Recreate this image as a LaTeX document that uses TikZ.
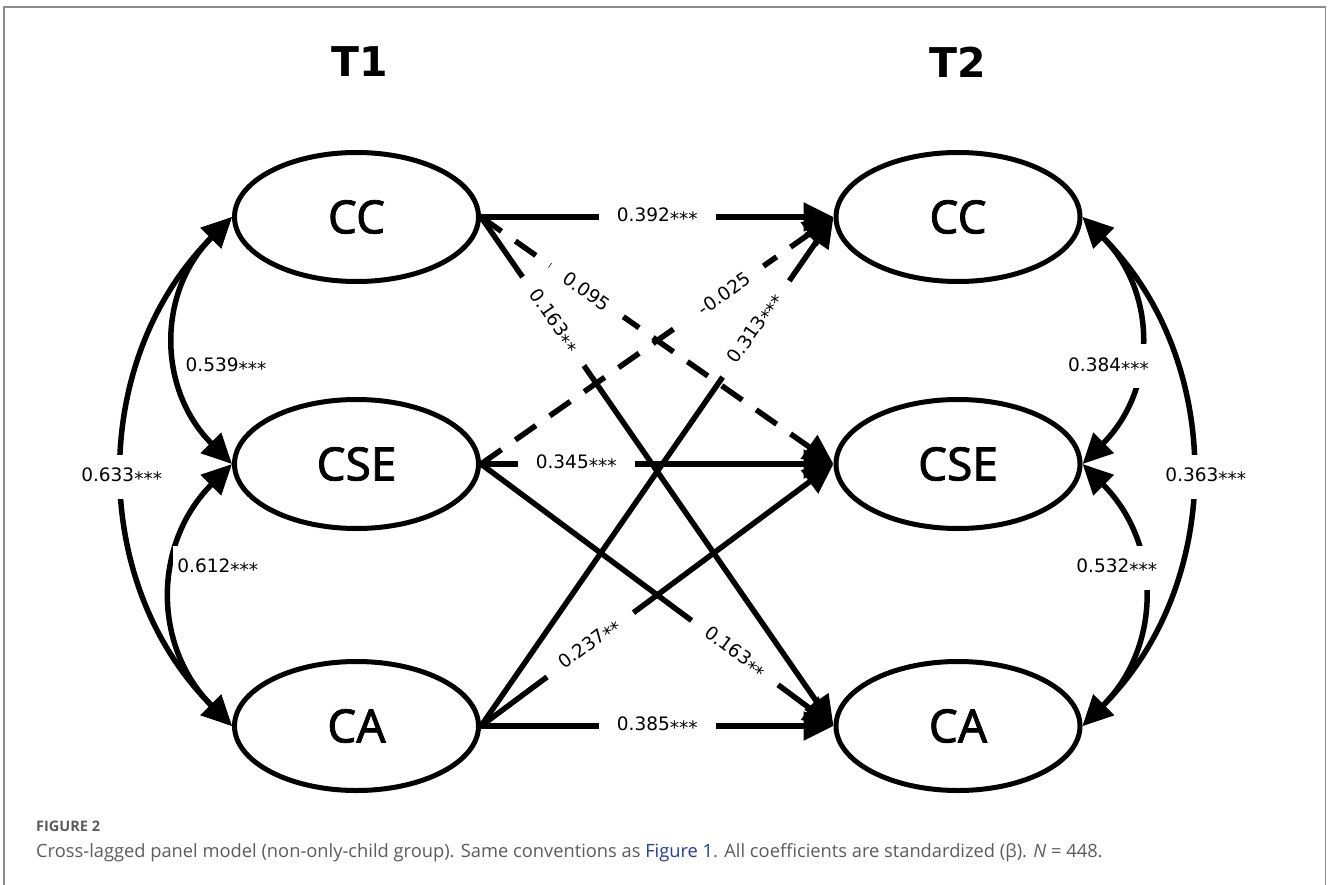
\documentclass[tikz,border=0pt]{standalone}
\usepackage{fontspec}
\setmainfont{Liberation Sans}
\newfontfamily\latfont{Noto Sans}[FakeBold=1.6]
\newfontfamily\coeffont{DejaVu Sans}
\newfontfamily\capfont{Open Sans}
\usetikzlibrary{arrows.meta,shapes.geometric}
\definecolor{capgray}{gray}{0.36}
\definecolor{linkblue}{RGB}{40,60,150}
\definecolor{framegray}{gray}{0.55}
\newcommand{\stars}[1]{\raisebox{-0.22em}{#1}}
\begin{document}
\begin{tikzpicture}[x=1pt,y=-1pt,
  latent/.style={ellipse, draw, line width=5pt, minimum width=244pt, minimum height=129pt, inner sep=0pt, font=\latfont\bfseries\fontsize{46}{50}\selectfont},
  regpath/.style={line width=5.5pt, -{Triangle[length=30pt,width=28pt]}},
  covpath/.style={line width=5.5pt, {Triangle[length=30pt,width=28pt]}-{Triangle[length=30pt,width=28pt]}},
  dashline/.style={dash pattern=on 25pt off 17pt},
  coef/.style={fill=white, inner xsep=18pt, inner ysep=3pt, font=\coeffont\fontsize{18.5}{20}\selectfont},
  covcoef/.style={fill=white, inner xsep=4pt, inner ysep=13pt, font=\coeffont\fontsize{18.5}{20}\selectfont},
  timelabel/.style={font=\coeffont\bfseries\fontsize{41}{45}\selectfont},
]
\useasboundingbox (0,0) rectangle (1330,885);
\fill[white] (0,0) rectangle (1330,885);
\draw[framegray, line width=1.5pt] (4,885) -- (4,7) -- (1325.5,7) -- (1325.5,885);

\node[timelabel] (t1) at (360,62) {T1};
\node[timelabel] (t2) at (958,62) {T2};

\node[latent] (cc1) at (356.5,217) {CC};
\node[latent] (cse1) at (356.5,464) {CSE};
\node[latent] (ca1) at (356.5,726) {CA};
\node[latent] (cc2) at (958,217) {CC};
\node[latent] (cse2) at (958,464) {CSE};
\node[latent] (ca2) at (958,726) {CA};

% covariances T1
\draw[covpath] (cc1.west) to[out=225,in=135,looseness=1.1] node[covcoef,pos=0.6,xshift=48pt]{0.539\stars{***}} (cse1.west);
\draw[covpath] (cse1.west) to[out=225,in=135,looseness=1.1] node[covcoef,pos=0.4,xshift=43pt]{0.612\stars{***}} (ca1.west);
\draw[covpath] (cc1.west) to[out=225,in=135,looseness=1.02] node[covcoef,pos=0.51,xshift=-3pt]{0.633\stars{***}} (ca1.west);
% covariances T2
\draw[covpath] (cc2.east) to[out=-45,in=45,looseness=1.1] node[covcoef,pos=0.6,xshift=-28pt]{0.384\stars{***}} (cse2.east);
\draw[covpath] (cse2.east) to[out=-45,in=45,looseness=1.1] node[covcoef,pos=0.4,xshift=-23pt]{0.532\stars{***}} (ca2.east);
\draw[covpath] (cc2.east) to[out=-45,in=45,looseness=1.02] node[covcoef,pos=0.51,xshift=16pt]{0.363\stars{***}} (ca2.east);

% dashed cross-lagged
\draw[regpath,dashline] (cc1.east) -- node[coef,sloped,pos=0.3]{0.095} (cse2.west);
\draw[regpath,dashline] (cse1.east) -- node[coef,sloped,pos=0.69]{-0.025} (cc2.west);

% autoregressive
\draw[regpath] (cc1.east) -- node[coef]{0.392\stars{***}} (cc2.west);
\draw[regpath] (cse1.east) -- node[coef,pos=0.27]{0.345\stars{***}} (cse2.west);
\draw[regpath] (ca1.east) -- node[coef]{0.385\stars{***}} (ca2.west);

% solid cross-lagged
\draw[regpath] (cc1.east) -- node[coef,sloped,pos=0.205]{0.163\stars{**}} (ca2.west);
\draw[regpath] (ca1.east) -- node[coef,sloped,pos=0.78]{0.313\stars{***}} (cc2.west);
\draw[regpath] (ca1.east) -- node[coef,sloped,pos=0.31]{0.237\stars{**}} (cse2.west);
\draw[regpath] (cse1.east) -- node[coef,sloped,pos=0.72]{0.163\stars{**}} (ca2.west);

\node[anchor=base west, inner sep=0pt, text=capgray, font=\capfont\bfseries\fontsize{14.5}{16}\selectfont] (figlabel) at (36,831) {FIGURE 2};
\node[anchor=base west, inner sep=0pt, text=capgray, font=\capfont\fontsize{18.3}{22}\selectfont] (caption) at (36,857) {Cross-lagged panel model (non-only-child group). Same conventions as \textcolor{linkblue}{Figure 1}. All coefficients are standardized (β). \textit{N} = 448.};
\end{tikzpicture}
\end{document}
